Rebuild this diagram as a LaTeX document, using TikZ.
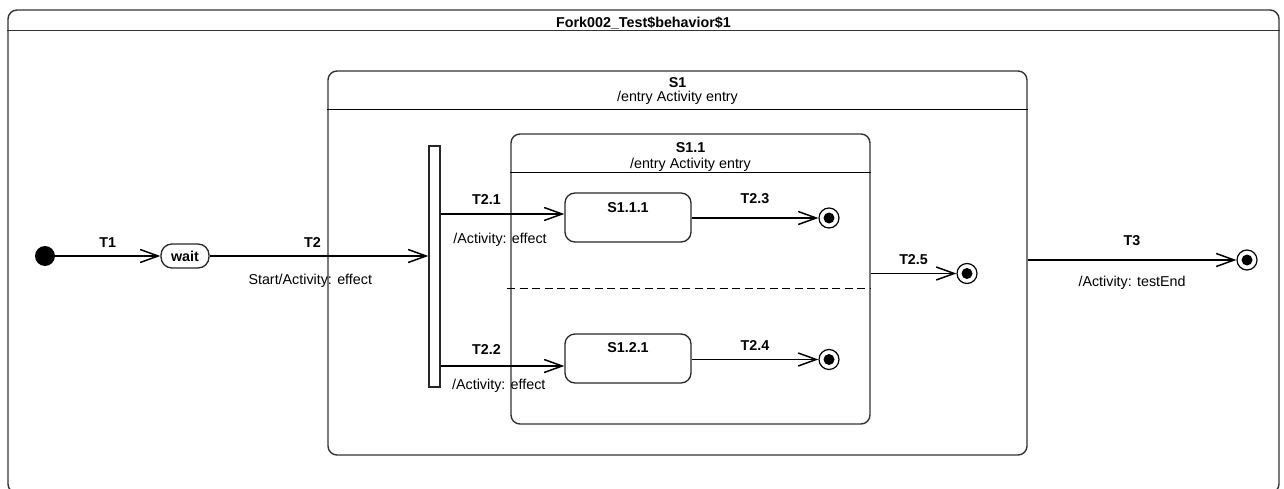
\documentclass[tikz,border=0pt]{standalone}
\usepackage{fontspec}
\setmainfont{Liberation Sans}
\usetikzlibrary{arrows.meta, positioning}

\newcommand{\diagfont}{\fontsize{14.3}{17}\selectfont}

\begin{document}
\begin{tikzpicture}[
  x=1pt, y=-1pt,
  font=\diagfont,
  boxframe/.style={
    draw=black!80,
    line width=1.4pt,
    rounded corners=9pt,
    inner sep=0pt
  },
  statebox/.style={
    draw=black!85,
    line width=1.3pt,
    rounded corners=10pt,
    minimum width=126pt,
    minimum height=49pt,
    inner sep=0pt
  },
  forkbar/.style={
    draw=black!85,
    line width=1.3pt,
    minimum width=11pt,
    minimum height=241pt,
    inner sep=0pt
  },
  startstate/.style={
    circle,
    fill=black,
    minimum size=20pt,
    inner sep=0pt
  },
  endstate/.style={
    circle,
    draw,
    line width=1.2pt,
    minimum size=20pt,
    inner sep=0pt,
    path picture={\fill (path picture bounding box.center) circle (5.5pt);}
  },
  trans/.style={
    -{Straight Barb[length=18pt, width=13pt]},
    line width=1.5pt
  },
  hdr/.style={font=\diagfont\bfseries, inner sep=0pt, anchor=base},
  txt/.style={font=\diagfont, inner sep=0pt, anchor=base},
  tlbl/.style={font=\diagfont\bfseries, inner sep=0pt},
  elbl/.style={font=\diagfont, inner sep=0pt}
]
  \useasboundingbox (0,0) rectangle (1284,489);

  % outer frame (its lower edge runs past the page)
  \node[boxframe, minimum width=1271pt, minimum height=483pt] (diag) at (643.5,251.5) {};
  \node[hdr] (diagname) at ([yshift=-18pt]diag.north) {Fork002\_Test\$behavior\$1};
  \draw[draw=black!80, line width=1.4pt] ([yshift=-21pt]diag.north west) -- ([yshift=-21pt]diag.north east);

  % S1
  \node[boxframe, minimum width=699pt, minimum height=384pt] (s1) at (677.5,263) {};
  \node[hdr] (s1name) at ([yshift=-17pt]s1.north) {S1};
  \node[txt] (s1entry) at ([yshift=-31pt]s1.north) {/entry Activity entry};
  \draw[line width=1.3pt] ([yshift=-39pt]s1.north west) -- ([yshift=-39pt]s1.north east);

  % S1.1 with its two regions
  \node[boxframe, minimum width=359pt, minimum height=290pt] (s11) at (690.5,279) {};
  \node[hdr] (s11name) at ([yshift=-19pt]s11.north) {S1.1};
  \node[txt] (s11entry) at ([yshift=-35pt]s11.north) {/entry Activity entry};
  \draw[line width=1.3pt] ([yshift=-39pt]s11.north west) -- ([yshift=-39pt]s11.north east);
  \draw[line width=1.3pt, dash pattern=on 8pt off 4.5pt] ([xshift=-3pt, yshift=-155pt]s11.north west) -- ([yshift=-155pt]s11.north east);

  \node[forkbar] (fork) at (434.5,266.5) {};

  \node[statebox] (s111) at (628,217.5) {};
  \node[hdr] (s111name) at ([yshift=-20pt]s111.north) {S1.1.1};
  \node[statebox] (s121) at (628,358.5) {};
  \node[hdr] (s121name) at ([yshift=-19pt]s121.north) {S1.2.1};

  \node[startstate] (start) at (45,256) {};
  \node[statebox, minimum width=48pt, minimum height=24pt, rounded corners=11pt, font=\diagfont\bfseries] (wait) at (185,256) {wait};

  \node[endstate] (f23) at (829,218) {};
  \node[endstate] (f24) at (829,359.5) {};
  \node[endstate] (f25) at (967,273.5) {};
  \node[endstate] (f3) at (1247,260) {};

  % transitions
  \draw[trans] (start) -- node[tlbl, above=8pt] {T1} (wait);
  \draw[trans] (wait) -- node[tlbl, above=8pt, pos=0.47] {T2}
    node[elbl, below=17pt, pos=0.46] {Start/Activity: effect} (wait -| fork.west);
  \draw[trans] ([yshift=3.5pt]fork.east |- s111.west) -- node[tlbl, above=9pt, pos=0.37] {T2.1}
    node[elbl, below=18pt, pos=0.48] {/Activity: effect} ([yshift=3.5pt]s111.west);
  \draw[trans] ([yshift=-7.5pt]fork.east |- s121.west) -- node[tlbl, above=11pt, pos=0.37] {T2.2}
    node[elbl, below=12pt, pos=0.47] {/Activity: effect} ([yshift=-7.5pt]s121.west);
  \draw[trans] (s111.east |- f23) -- node[tlbl, above=14pt] {T2.3} (f23);
  \draw[trans] (s121.east |- f24) -- node[tlbl, above=8pt] {T2.4} (f24);
  \draw[trans] (s11.east |- f25) -- node[tlbl, above=8pt] {T2.5} (f25);
  \draw[trans] (s1.east |- f3) -- node[tlbl, above=14pt] {T3}
    node[elbl, below=15pt] {/Activity: testEnd} (f3);
\end{tikzpicture}
\end{document}
